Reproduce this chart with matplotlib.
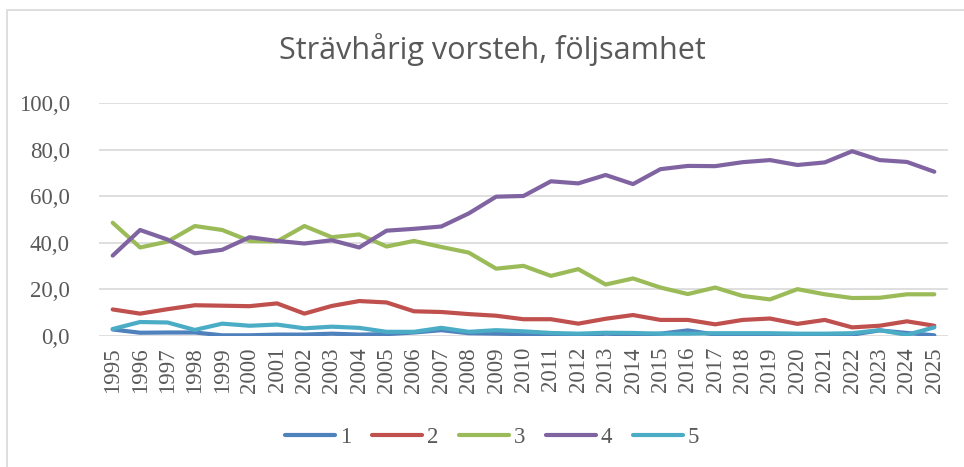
import matplotlib
matplotlib.use("Agg")
import matplotlib.pyplot as plt
from matplotlib.patches import Rectangle

years = [str(y) for y in range(1995, 2026)]
series_names = ["1", "2", "3", "4", "5"]
s1 = [2.8, 1.4, 1.5, 1.5, 0.3, 0.3, 0.6, 0.6, 1.0, 0.6, 0.8, 1.5, 2.5, 1.2, 1.0, 0.8,
      0.3, 0.0, 1.0, 0.6, 1.0, 2.4, 0.6, 0.8, 0.6, 0.3, 0.3, 0.6, 2.4, 1.3, 0.3]
s2 = [11.4, 9.6, 11.5, 13.2, 13.0, 12.8, 14.0, 9.6, 12.9, 15.0, 14.4, 10.6, 10.3, 9.4, 8.7, 7.2,
      7.2, 5.3, 7.4, 9.0, 6.9, 6.9, 5.0, 6.9, 7.5, 5.2, 6.9, 3.7, 4.4, 6.3, 4.4]
s3 = [48.6, 38.0, 40.5, 47.2, 45.5, 40.8, 40.6, 47.2, 42.4, 43.6, 38.4, 40.8, 38.2, 35.8, 28.9, 30.1,
      25.8, 28.7, 22.1, 24.7, 20.8, 18.0, 20.8, 17.2, 15.7, 20.1, 17.9, 16.3, 16.4, 17.9, 17.9]
s4 = [34.5, 45.5, 41.4, 35.5, 37.0, 42.4, 40.8, 39.7, 41.1, 38.0, 45.2, 46.0, 47.0, 52.6, 59.8, 60.1,
      66.4, 65.5, 69.1, 65.2, 71.6, 73.0, 72.9, 74.6, 75.5, 73.4, 74.5, 79.3, 75.5, 74.7, 70.5]
s5 = [3.0, 6.0, 5.8, 2.6, 5.3, 4.4, 4.9, 3.3, 4.0, 3.5, 1.8, 1.8, 3.5, 1.8, 2.5, 2.0,
      1.3, 1.0, 1.4, 1.3, 1.0, 1.0, 1.2, 1.2, 1.2, 1.0, 1.0, 1.2, 2.5, 0.5, 3.7]
series = [s1, s2, s3, s4, s5]
colors = ["#4F81BD", "#C0504D", "#9BBB59", "#8064A2", "#4BACC6"]
yticks = [0, 20, 40, 60, 80, 100]
ytick_labels = ["0,0", "20,0", "40,0", "60,0", "80,0", "100,0"]
title = "Strävhårig vorsteh, följsamhet"

W, H = 964, 467
fig = plt.figure(figsize=(W / 100, H / 100), dpi=100)
fig.patch.set_facecolor("white")

# outer chart frame
fig.add_artist(Rectangle((7 / W, -0.05), 1.2, (H - 10) / H + 0.05, transform=fig.transFigure,
                         fill=False, edgecolor="#d9d9d9", linewidth=1.2))

ax = fig.add_axes([99 / W, 1 - 336 / H, (948 - 99) / W, (336 - 103) / H])
x = list(range(len(years)))
for name, vals, c in zip(series_names, series, colors):
    ax.plot(x, vals, color=c, linewidth=3.0, label=name, solid_capstyle="round",
            solid_joinstyle="round")

ax.set_xlim(-0.5, len(years) - 0.5)
ax.set_ylim(0, 100)
ax.set_yticks(yticks)
ax.set_yticklabels(ytick_labels)
ax.set_xticks(x)
ax.set_xticklabels(years, rotation=90)
ax.grid(axis="y", color="#d9d9d9", linewidth=1.2)
ax.set_axisbelow(True)
for sp in ax.spines.values():
    sp.set_visible(False)
ax.tick_params(axis="both", length=0, labelcolor="#595959")
ax.tick_params(axis="y", pad=21)
ax.tick_params(axis="x", pad=8)
for lab in ax.get_xticklabels() + ax.get_yticklabels():
    lab.set_fontfamily("Liberation Serif")
    lab.set_fontsize(16.5)

fig.text(492 / W, 1 - 50 / H, title, ha="center", va="center", fontsize=22,
         family="Open Sans", color="#595959")

leg = fig.legend(loc="center", bbox_to_anchor=(492 / W, 1 - 437 / H), ncol=5, frameon=False,
                 prop={"family": "Liberation Serif", "size": 16.5}, handlelength=2.2,
                 handletextpad=0.2, columnspacing=0.9, labelcolor="#595959")

fig.savefig("out.png", dpi=100)
